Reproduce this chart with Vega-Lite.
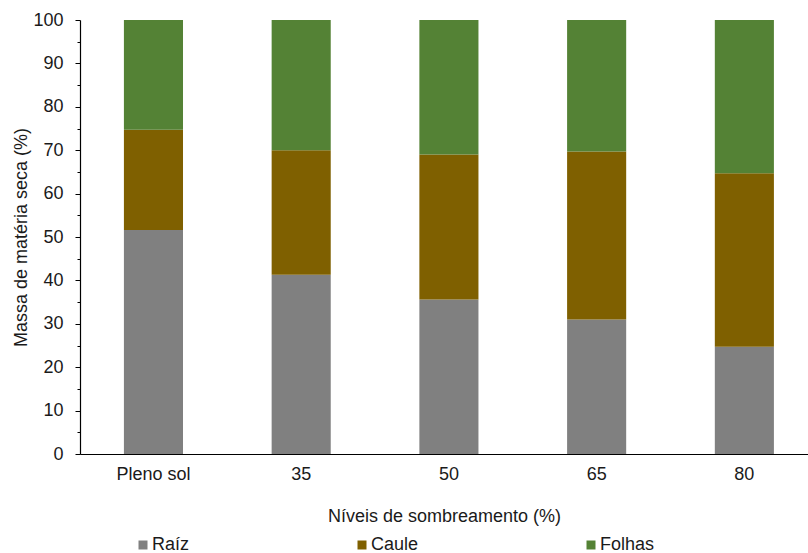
{
  "$schema": "https://vega.github.io/schema/vega-lite/v6.json",
  "width": 728,
  "height": 434,
  "autosize": {"type": "none"},
  "padding": {"left": 80, "top": 20, "right": 0, "bottom": 99},
  "background": "white",
  "config": {
    "view": {"stroke": null},
    "font": "Liberation Sans",
    "axis": {"grid": false, "domainColor": "#000000", "tickColor": "#000000", "labelColor": "#1a1a1a", "titleColor": "#1a1a1a", "labelFont": "Liberation Sans", "titleFont": "Liberation Sans", "labelFontSize": 18, "titleFontSize": 18, "titleFontWeight": "normal"},
    "legend": {"labelFont": "Liberation Sans", "labelFontSize": 18, "labelColor": "#1a1a1a"}
  },
  "data": {
    "values": [
      {"nivel": "Pleno sol", "parte": "Raíz", "ordem": 1, "valor": 51.6},
      {"nivel": "Pleno sol", "parte": "Caule", "ordem": 2, "valor": 23.1},
      {"nivel": "Pleno sol", "parte": "Folhas", "ordem": 3, "valor": 25.3},
      {"nivel": "35", "parte": "Raíz", "ordem": 1, "valor": 41.3},
      {"nivel": "35", "parte": "Caule", "ordem": 2, "valor": 28.7},
      {"nivel": "35", "parte": "Folhas", "ordem": 3, "valor": 30.0},
      {"nivel": "50", "parte": "Raíz", "ordem": 1, "valor": 35.6},
      {"nivel": "50", "parte": "Caule", "ordem": 2, "valor": 33.4},
      {"nivel": "50", "parte": "Folhas", "ordem": 3, "valor": 31.0},
      {"nivel": "65", "parte": "Raíz", "ordem": 1, "valor": 31.0},
      {"nivel": "65", "parte": "Caule", "ordem": 2, "valor": 38.7},
      {"nivel": "65", "parte": "Folhas", "ordem": 3, "valor": 30.3},
      {"nivel": "80", "parte": "Raíz", "ordem": 1, "valor": 24.7},
      {"nivel": "80", "parte": "Caule", "ordem": 2, "valor": 40.0},
      {"nivel": "80", "parte": "Folhas", "ordem": 3, "valor": 35.3}
    ]
  },
  "mark": {"type": "bar"},
  "encoding": {
    "x": {
      "field": "nivel",
      "type": "nominal",
      "sort": ["Pleno sol", "35", "50", "65", "80"],
      "scale": {"paddingInner": 0.6, "paddingOuter": 0.264, "align": 0.563},
      "axis": {"title": "Níveis de sombreamento (%)", "labelAngle": 0, "ticks": false, "labelPadding": 11, "titlePadding": 24, "domainWidth": 1.2}
    },
    "y": {
      "field": "valor",
      "type": "quantitative",
      "stack": "zero",
      "scale": {"domain": [0, 100], "nice": false},
      "axis": {
        "title": "Massa de matéria seca (%)",
        "values": [0, 5, 10, 15, 20, 25, 30, 35, 40, 45, 50, 55, 60, 65, 70, 75, 80, 85, 90, 95, 100],
        "labelExpr": "datum.value % 10 === 0 ? datum.label : ''",
        "tickSize": {"condition": {"test": "datum.value % 10 === 0", "value": 5}, "value": 3},
        "labelPadding": 12,
        "titlePadding": 2,
        "domainWidth": 1.2
      }
    },
    "color": {
      "field": "parte",
      "type": "nominal",
      "sort": ["Raíz", "Caule", "Folhas"],
      "scale": {"domain": ["Raíz", "Caule", "Folhas"], "range": ["#808080", "#7F6000", "#548235"]},
      "legend": {
        "title": null,
        "orient": "none",
        "direction": "horizontal",
        "columns": 3,
        "legendX": 54,
        "legendY": 516,
        "symbolType": "square",
        "symbolSize": 81,
        "symbolStrokeWidth": 0,
        "labelOffset": 0,
        "columnPadding": 163
      }
    },
    "order": {"field": "ordem", "type": "quantitative"}
  }
}
